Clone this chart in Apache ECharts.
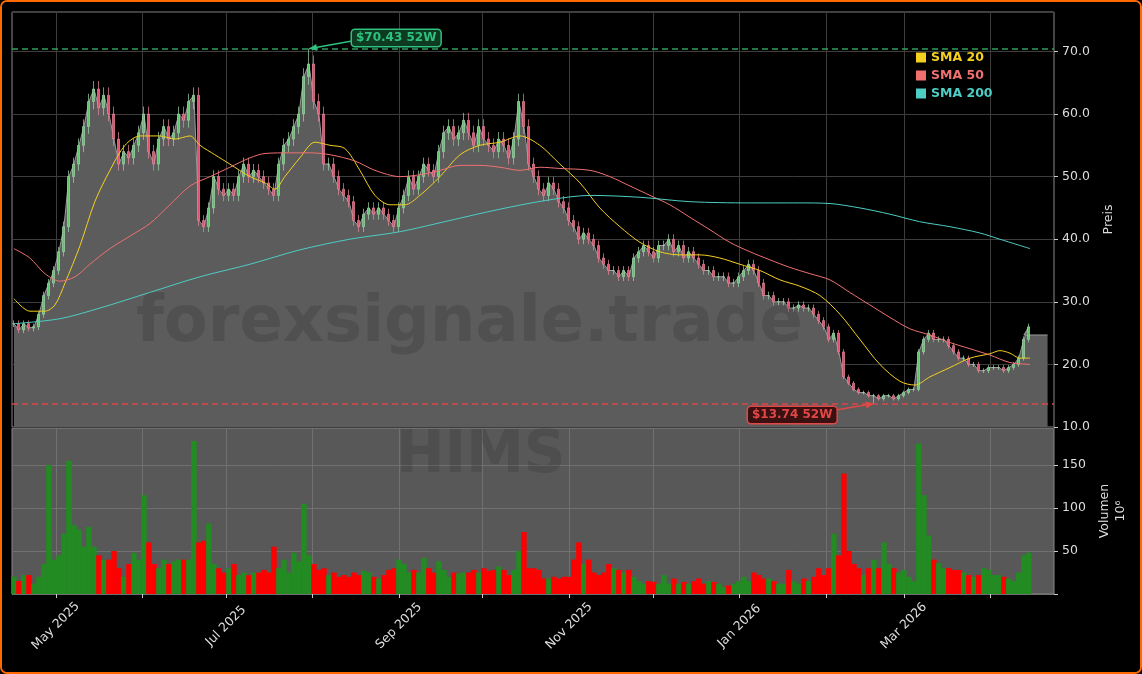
<!DOCTYPE html>
<html>
<head>
<meta charset="utf-8">
<script src="https://cdn.jsdelivr.net/npm/echarts@6/dist/echarts.min.js"></script>
<style>
  html, body { margin: 0; padding: 0; background: #000; }
  #frame { position: absolute; left: 0; top: 0; width: 1138px; height: 670px; border: 2px solid #ff6a00; border-radius: 7px; overflow: hidden; background: #000; }
  #chart { margin-left: -2px; margin-top: -2px; width: 1142px; height: 674px; }
</style>
</head>
<body>
<div id="frame"><div id="chart"></div></div>
<script>
// sample step: one sample every 1.792 calendar days, starting 16 Apr 2025
const startDay = Date.UTC(2025, 3, 16);
const stepDays = 1.792;

const closes = [26.5, 25.5, 26.5, 25.8, 26,
    28, 31, 33, 35, 38, 42, 50, 52, 55, 58,
    62, 64, 61, 63, 60, 56, 52, 54, 53, 55,
    57, 60, 54, 52, 56, 58, 56, 57, 60, 59,
    62, 63, 43, 42, 45, 50, 48, 47, 48, 47,
    50, 52, 50, 51, 50, 49, 48, 47, 52, 55,
    56, 58, 60, 66, 68, 62, 60, 52, 52, 50,
    48, 47, 46, 43, 42, 44, 45, 44, 45, 44,
    43, 42, 45, 47, 50, 48, 50, 52, 51, 50,
    54, 57, 58, 56, 57, 59, 57, 55, 58, 56,
    55, 54, 56, 55, 53, 56, 62, 58, 52, 50,
    48, 47, 49, 48, 46, 45, 43, 42, 40, 41,
    40, 39, 37, 36, 35, 35, 34, 35, 34, 37,
    38, 39, 38, 37, 39, 39, 40, 38, 39, 37,
    38, 37, 36, 35, 35, 34, 34, 34, 33, 33,
    34, 35, 36, 35, 33, 31, 31, 30, 30, 30,
    29, 29, 29.5, 29, 29, 28, 27, 26, 24, 25,
    22, 18, 17, 16, 15.5, 15.5, 15, 15, 14.5, 15,
    15, 14.5, 15, 15.5, 16, 16, 22, 24, 25, 24,
    24, 24, 23, 22, 21, 21, 20, 20, 19, 19,
    19.5, 19.5, 19.5, 19, 19.5, 20, 21, 24, 26];

const volumes = [20, 15, 22, 22, 12, 20, 35, 150, 40, 45,
    70, 155, 80, 75, 55, 78, 55, 45, 40, 40,
    50, 30, 20, 35, 48, 40, 115, 60, 35, 30,
    40, 35, 38, 40, 40, 40, 178, 60, 62, 82,
    35, 30, 25, 30, 35, 22, 25, 22, 25, 25,
    28, 25, 55, 30, 40, 25, 48, 38, 105, 45,
    35, 28, 30, 22, 25, 20, 22, 20, 25, 22,
    27, 25, 20, 18, 22, 28, 30, 40, 35, 25,
    28, 25, 42, 30, 25, 38, 28, 20, 25, 24,
    25, 25, 28, 25, 30, 27, 28, 32, 28, 22,
    28, 50, 72, 30, 30, 28, 18, 18, 20, 18,
    20, 20, 40, 60, 35, 40, 25, 22, 25, 35,
    30, 28, 25, 28, 20, 15, 12, 15, 14, 12,
    22, 12, 18, 12, 14, 12, 15, 18, 12, 15,
    14, 12, 8, 10, 12, 15, 20, 15, 25, 22,
    18, 18, 15, 12, 12, 28, 15, 12, 18, 15,
    20, 30, 22, 30, 70, 45, 140, 50, 35, 30,
    22, 30, 40, 30, 60, 35, 30, 25, 28, 20,
    15, 175, 115, 68, 40, 36, 30, 30, 28, 28,
    25, 22, 20, 22, 30, 28, 22, 22, 20, 18,
    15, 25, 45, 48];

// moving averages: [day offset, value]
const sma20 = [[0, 30.5], [5.7, 28.5], [11.1, 28.5], [14.7, 29.5], [18.3, 33], [23.7, 39], [29, 46], [34.4, 51], [39.8, 55], [45.2, 56.5],
    [52.3, 56.5], [57.7, 56], [63.1, 56.5], [66.7, 55], [72, 53.5], [77.4, 52], [84.6, 50], [90, 49], [93.5, 48], [97.1, 50],
    [102.5, 53], [107.9, 55.5], [113.3, 55], [118.6, 54.5], [124, 51], [129.4, 47], [134.8, 45.5], [140.1, 45.5], [145.5, 47], [152.7, 50],
    [159.9, 53.5], [167, 55], [174.2, 55.5], [181.4, 56.5], [188.5, 55], [195.7, 52], [202.9, 49], [210, 45], [217.2, 42], [224.4, 39.5],
    [231.5, 38], [238.7, 37.5], [245.9, 37.5], [253, 37], [260.2, 36], [267.4, 35], [274.6, 33.5], [281.7, 32.5], [288.9, 31], [296.1, 28],
    [303.2, 24], [310.4, 20], [317.6, 17.3], [322.9, 16.7], [328.3, 18], [335.5, 19.5], [342.7, 21], [349.8, 21.7], [353.4, 22.2], [357, 21.8],
    [360.6, 21], [364.2, 21]];
const sma50 = [[0, 38.5], [5.7, 37], [11.1, 34.5], [16.5, 33.3], [21.9, 34], [27.2, 36], [34.4, 38.5], [41.6, 40.5], [48.7, 42.5], [55.9, 45.5],
    [63.1, 48.5], [70.3, 50], [77.4, 51.5], [84.6, 53], [90, 53.7], [98.9, 53.8], [106.1, 53.8], [113.3, 53.5], [122.2, 52.5], [129.4, 51],
    [138.4, 50], [145.5, 50.3], [152.7, 51], [159.9, 51.8], [167, 51.8], [174.2, 51.5], [181.4, 51], [188.5, 51.5], [195.7, 51.3], [206.5, 51],
    [213.6, 50], [220.8, 48.5], [228, 47], [235.1, 45.5], [242.3, 43.5], [249.5, 41.5], [256.6, 39.5], [263.8, 38], [271, 36.7], [278.1, 35.5],
    [285.3, 34.5], [292.5, 33.5], [299.6, 31.5], [306.8, 29.5], [314, 27.5], [321.1, 25.7], [328.3, 24.7], [335.5, 23.5], [342.7, 22.5], [349.8, 21.5],
    [357, 20.3], [364.2, 20]];
const sma200 = [[0, 26.5], [16.5, 27.3], [30.8, 29], [48.7, 31.5], [66.7, 34], [84.6, 36], [102.5, 38.3], [120.4, 40], [138.4, 41.2], [156.3, 43],
    [174.2, 44.8], [192.1, 46.3], [206.5, 47], [224.4, 46.7], [242.3, 46], [263.8, 45.8], [281.7, 45.8], [292.5, 45.7], [303.2, 45], [314, 44],
    [324.7, 42.8], [335.5, 42], [346.2, 41], [353.4, 40], [364.2, 38.5]];

const high52 = 70.43;
const low52 = 13.74;

const DAY = 86400000;
const dayToTime = d => startDay + d * DAY;
const sampleTime = i => dayToTime(i * stepDays);
const toTime = pts => pts.map(p => [dayToTime(p[0]), p[1]]);

let candles = [];
let areaData = [];
let volData = [];
for (let i = 0; i < closes.length; i++) {
    const o = i > 0 ? closes[i - 1] : closes[i];
    const c = closes[i];
    let h = Math.max(o, c) * 1.02;
    let l = Math.min(o, c) * 0.98;
    if (i === 59) h = high52;
    if (i === 172) l = low52;
    const t = sampleTime(i);
    candles.push([t, o, c, l, h]);
    areaData.push([t, c]);
    volData.push({
        value: [t, volumes[i]],
        itemStyle: {color: c >= o ? '#228b22' : '#ff0000'}
    });
}
areaData.push([dayToTime(362), 24.7]);
areaData.push([dayToTime(370.5), 24.7]);

let monthTicks = [];
let monthLabels = [];
for (let m = 4; m <= 15; m++) {
    const t = Date.UTC(2025, m, 1);
    monthTicks.push(t);
    if (m % 2 === 0) monthLabels.push(t);
}
const monthNames = ['Jan', 'Feb', 'Mar', 'Apr', 'May', 'Jun', 'Jul', 'Aug', 'Sep', 'Oct', 'Nov', 'Dec'];

const xMin = dayToTime(-0.7);
const xMax = dayToTime(372.8);
const gridColor = '#3d3d3d';

var myChart = echarts.init(document.getElementById('chart'));
const option = {
    backgroundColor: '#000',
    animation: false,
    grid: [
        {left: 12, right: 88, top: 12, height: 415, show: true, borderColor: '#888', borderWidth: 1, backgroundColor: 'transparent'},
        {left: 12, right: 88, top: 428, height: 166, show: true, borderColor: '#888', borderWidth: 1, backgroundColor: '#585858'}
    ],
    legend: {
        orient: 'vertical',
        left: 911,
        top: 46,
        icon: 'rect',
        itemWidth: 10,
        itemHeight: 10,
        itemGap: 5,
        data: [
            {name: 'SMA 20', textStyle: {color: '#f5d020'}},
            {name: 'SMA 50', textStyle: {color: '#f07070'}},
            {name: 'SMA 200', textStyle: {color: '#4ecdc4'}}
        ],
        textStyle: {fontFamily: 'DejaVu Sans', fontWeight: 'bold', fontSize: 12.5}
    },
    xAxis: [
        {
            type: 'value', gridIndex: 0, min: xMin, max: xMax,
            axisLine: {show: false}, axisLabel: {show: false},
            axisTick: {show: false, customValues: monthTicks},
            splitLine: {show: true, lineStyle: {color: gridColor}}
        },
        {
            type: 'value', gridIndex: 1, min: xMin, max: xMax,
            axisLine: {show: false},
            axisTick: {show: true, customValues: monthTicks, lineStyle: {color: '#ccc'}, length: 4},
            axisLabel: {
                customValues: monthLabels, rotate: 45, align: 'center', verticalAlign: 'middle',
                color: '#ddd', fontFamily: 'DejaVu Sans', fontSize: 12.5, margin: 32,
                formatter: v => { const d = new Date(v); return monthNames[d.getUTCMonth()] + ' ' + d.getUTCFullYear(); }
            },
            splitLine: {show: true, lineStyle: {color: '#707070'}}
        }
    ],
    yAxis: [
        {
            type: 'value', gridIndex: 0, position: 'right', min: 10, max: 76.3, interval: 10,
            name: 'Preis', nameLocation: 'middle', nameRotate: 90, nameGap: 48,
            nameTextStyle: {color: '#ddd', fontFamily: 'DejaVu Sans', fontSize: 12.5},
            axisLine: {show: false},
            axisTick: {show: true, length: 4, lineStyle: {color: '#ccc'}},
            axisLabel: {color: '#ddd', fontFamily: 'DejaVu Sans', fontSize: 12.5, showMaxLabel: false, formatter: v => v.toFixed(1)},
            splitLine: {show: true, lineStyle: {color: gridColor}}
        },
        {
            type: 'value', gridIndex: 1, position: 'right', min: 0, max: 193, interval: 50,
            name: 'Volumen\n10⁶', nameLocation: 'middle', nameRotate: 90, nameGap: 40,
            nameTextStyle: {color: '#ddd', fontFamily: 'DejaVu Sans', fontSize: 12.5, lineHeight: 16},
            axisLine: {show: false},
            axisTick: {show: true, length: 4, lineStyle: {color: '#ccc'}},
            axisLabel: {color: '#ddd', fontFamily: 'DejaVu Sans', fontSize: 12.5, showMaxLabel: false, formatter: v => (v === 0 ? '' : v)},
            splitLine: {show: true, lineStyle: {color: '#707070'}}
        }
    ],
    graphic: [
        {type: 'text', left: 136, top: 292, z: 100, silent: true, style: {text: 'forexsignale.trade', fontSize: 64, fontWeight: 'bold', fontFamily: 'DejaVu Sans', fill: 'rgba(40,40,40,0.22)'}},
        {type: 'text', left: 396, top: 428, z: 100, silent: true, style: {text: 'HIMS', fontSize: 58, fontWeight: 'bold', fontFamily: 'DejaVu Sans', fill: 'rgba(40,40,40,0.2)'}}
    ],
    series: [
        {
            name: 'Close', type: 'line', xAxisIndex: 0, yAxisIndex: 0, data: areaData, symbol: 'none', z: 1,
            lineStyle: {color: '#9a9a9a', width: 1},
            areaStyle: {color: '#5c5c5c', opacity: 1, origin: 'start'}
        },
        {
            name: 'OHLC', type: 'candlestick', xAxisIndex: 0, yAxisIndex: 0, data: candles, barWidth: 2.5, z: 3,
            itemStyle: {color: '#5fc46e', color0: '#e0506c', borderColor: '#9fd6a8', borderColor0: '#e8899c', borderWidth: 0.7}
        },
        {
            name: 'SMA 20', type: 'line', xAxisIndex: 0, yAxisIndex: 0, data: toTime(sma20), smooth: 0.3, symbol: 'none', z: 4,
            itemStyle: {color: '#f5d020'}, lineStyle: {color: '#f5d020', width: 1}
        },
        {
            name: 'SMA 50', type: 'line', xAxisIndex: 0, yAxisIndex: 0, data: toTime(sma50), smooth: 0.3, symbol: 'none', z: 4,
            itemStyle: {color: '#f07070'}, lineStyle: {color: '#f07070', width: 1}
        },
        {
            name: 'SMA 200', type: 'line', xAxisIndex: 0, yAxisIndex: 0, data: toTime(sma200), smooth: 0.3, symbol: 'none', z: 4,
            itemStyle: {color: '#4ecdc4'}, lineStyle: {color: '#4ecdc4', width: 1},
            markLine: {
                silent: true, symbol: 'none', label: {show: false},
                data: [
                    {yAxis: high52, lineStyle: {color: '#2e9e5b', type: [6, 4], width: 1.5}},
                    {yAxis: low52, lineStyle: {color: '#d84848', type: [6, 4], width: 1.5}}
                ]
            }
        },
        {
            name: 'Volumen', type: 'bar', xAxisIndex: 1, yAxisIndex: 1, data: volData, barWidth: 5.5, z: 2
        }
    ]
};
myChart.setOption(option);

// 52-week annotations: arrows point at the extreme candles
const peakPt = myChart.convertToPixel({xAxisIndex: 0, yAxisIndex: 0}, [sampleTime(59), high52]);
const lowPt = myChart.convertToPixel({xAxisIndex: 0, yAxisIndex: 0}, [sampleTime(172), low52]);
function arrowHead(x1, y1, x2, y2) {
    const a = Math.atan2(y2 - y1, x2 - x1);
    const len = 8, w = 3.5;
    const bx = x2 - len * Math.cos(a), by = y2 - len * Math.sin(a);
    return [[x2, y2], [bx - w * Math.sin(a), by + w * Math.cos(a)], [bx + w * Math.sin(a), by - w * Math.cos(a)]];
}
function annotation(text, color, fill, boxX, boxY, tip, fromX, fromY) {
    return [
        {type: 'line', z: 110, shape: {x1: fromX, y1: fromY, x2: tip[0], y2: tip[1]}, style: {stroke: color, lineWidth: 1.5}},
        {type: 'polygon', z: 110, shape: {points: arrowHead(fromX, fromY, tip[0], tip[1])}, style: {fill: color}},
        {type: 'text', z: 111, x: boxX, y: boxY, style: {
            text: text, fill: color, fontSize: 12, fontWeight: 'bold', fontFamily: 'DejaVu Sans',
            backgroundColor: fill, borderColor: color, borderWidth: 1.5, borderRadius: 3, padding: [2, 4], verticalAlign: 'middle'
        }}
    ];
}
const extra = [].concat(
    annotation('$70.43 52W', '#2ec27e', '#0e3a22', 352, 38, peakPt, 352, 41),
    annotation('$13.74 52W', '#e04848', '#3a1010', 748, 415, lowPt, 836, 410)
);
myChart.setOption({graphic: option.graphic.concat(extra)});
</script>
</body>
</html>
